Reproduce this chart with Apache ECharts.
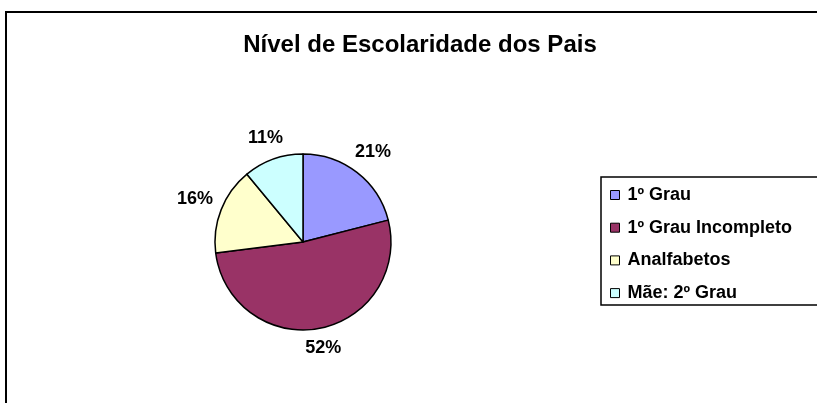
<!DOCTYPE html>
<html>
<head>
<meta charset="utf-8">
<script src="https://cdn.jsdelivr.net/npm/echarts@6/dist/echarts.min.js"></script>
<style>
  html, body { margin: 0; padding: 0; background: #fff; }
  #chart { width: 817px; height: 403px; }
</style>
</head>
<body>
<div id="chart"></div>
<script>
// dados do gráfico
var categories = ["1º Grau", "1º Grau Incompleto", "Analfabetos", "Mãe: 2º Grau"];
var values = [21, 52, 16, 11];
var colors = ["#9999FF", "#993366", "#FFFFCC", "#CCFFFF"];

var font = "'Liberation Sans', Arial, sans-serif";
var pieCenter = [303, 242];
var pieRadius = 88;
var labelGap = 8;

var total = values.reduce(function (a, b) { return a + b; }, 0);
var midAngles = [];
var acc = 0;
values.forEach(function (v) {
  midAngles.push(2 * Math.PI * (acc + v / 2) / total);
  acc += v;
});

var myChart = echarts.init(document.getElementById("chart"));

var option = {
  animation: false,
  backgroundColor: "#fff",
  title: {
    text: "Nível de Escolaridade dos Pais",
    left: 420,
    top: 31,
    textAlign: "center",
    padding: 0,
    textStyle: {
      fontFamily: font,
      fontWeight: "bold",
      fontSize: 24,
      lineHeight: 28,
      color: "#000"
    }
  },
  legend: {
    orient: "vertical",
    left: 601,
    top: 177,
    padding: [8, 80, 2, 9],
    itemGap: 12.7,
    itemWidth: 9,
    itemHeight: 9,
    icon: "rect",
    borderColor: "#000",
    borderWidth: 1.5,
    itemStyle: { borderColor: "#000", borderWidth: 1 },
    textStyle: {
      fontFamily: font,
      fontWeight: "bold",
      fontSize: 18,
      lineHeight: 20,
      color: "#000",
      padding: [0, 0, 0, 3]
    },
    data: categories
  },
  graphic: [
    {
      type: "rect",
      shape: { x: 6, y: 12, width: 900, height: 500 },
      style: { fill: "none", stroke: "#000", lineWidth: 2 },
      silent: true
    }
  ],
  series: [
    {
      type: "pie",
      center: pieCenter,
      radius: pieRadius,
      startAngle: 90,
      clockwise: true,
      avoidLabelOverlap: false,
      itemStyle: { borderColor: "#000", borderWidth: 1.5 },
      label: {
        show: true,
        position: "outside",
        formatter: "{c}%",
        fontFamily: font,
        fontWeight: "bold",
        fontSize: 18,
        color: "#000"
      },
      labelLine: { show: false, length: 4, length2: 0 },
      labelLayout: function (params) {
        var a = midAngles[params.dataIndex];
        var dx = Math.sin(a), dy = -Math.cos(a);
        var w = params.labelRect.width / 2, h = params.labelRect.height / 2;
        var d = pieRadius + labelGap + w * Math.abs(dx) + h * Math.abs(dy);
        return {
          x: pieCenter[0] + dx * d,
          y: pieCenter[1] + dy * d,
          align: "center",
          verticalAlign: "middle"
        };
      },
      emphasis: { disabled: true },
      data: categories.map(function (name, i) {
        return { name: name, value: values[i], itemStyle: { color: colors[i] } };
      })
    }
  ]
};

myChart.setOption(option);
</script>
</body>
</html>
